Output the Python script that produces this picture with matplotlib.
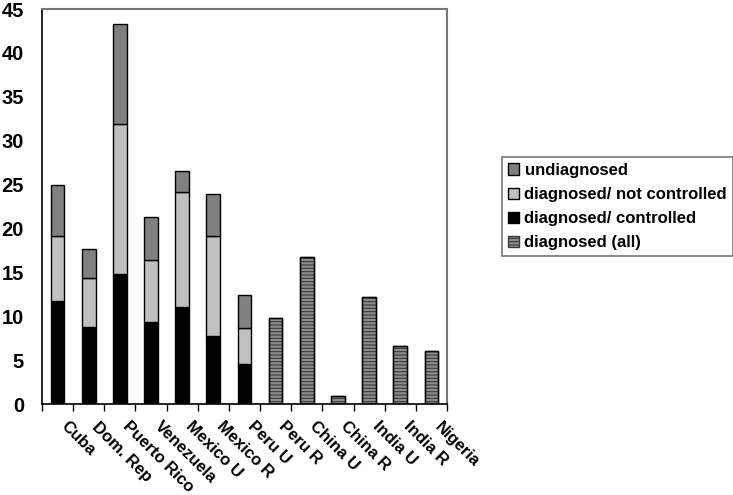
import numpy as np
import matplotlib.pyplot as plt
from matplotlib.patches import Patch

plt.rcParams['font.family'] = ['Liberation Sans', 'DejaVu Sans']
plt.rcParams['font.weight'] = 'bold'
plt.rcParams['hatch.linewidth'] = 0.8

categories = ['Cuba', 'Dom. Rep', 'Puerto Rico', 'Venezuela', 'Mexico U', 'Mexico R',
              'Peru U', 'Peru R', 'China U', 'China R', 'India U', 'India R', 'Nigeria']

# stacked groups (first 7 categories)
controlled = [11.7, 8.8, 14.8, 9.3, 11.0, 7.7, 4.6]
not_controlled = [7.4, 5.6, 17.1, 7.1, 13.1, 11.4, 4.1]
undiagnosed = [5.8, 3.3, 11.4, 4.9, 2.4, 4.8, 3.7]
# diagnosed (all) for the remaining 6 categories
diagnosed_all = [9.8, 16.8, 0.95, 12.15, 6.6, 6.0]

fig = plt.figure(figsize=(7.33, 4.95), dpi=100)
ax = fig.add_axes([0.0573, 0.1838, 0.5525, 0.798])

x = np.arange(len(categories)) + 0.5
w = 0.44
n = len(controlled)
xs = x[:n]
ax.bar(xs, controlled, w, color='black', edgecolor='black', linewidth=1)
ax.bar(xs, not_controlled, w, bottom=controlled, color='#c0c0c0', edgecolor='black', linewidth=1)
bot2 = np.array(controlled) + np.array(not_controlled)
ax.bar(xs, undiagnosed, w, bottom=bot2, color='#808080', edgecolor='black', linewidth=1)
ax.bar(x[n:], diagnosed_all, w, color='#8c8c8c', edgecolor='#3a3a3a', hatch='-----', linewidth=1)
# black outline on hatched bars
ax.bar(x[n:], diagnosed_all, w, color='none', edgecolor='black', linewidth=1)

ax.set_xlim(0, len(categories))
ax.set_ylim(0, 45)
ax.set_yticks(range(0, 46, 5))
ax.set_xticks(range(0, len(categories) + 1))
ax.set_xticklabels([])
ax.tick_params(axis='y', labelsize=14.5, length=0, pad=13)
ax.tick_params(axis='x', length=5, direction='out', width=1)
for s in ['top', 'right']:
    ax.spines[s].set_color('#777777')
    ax.spines[s].set_linewidth(1.5)
for s in ['left', 'bottom']:
    ax.spines[s].set_linewidth(1.2)

for xi, lab in zip(x, categories):
    ax.text(xi + 0.35, -1.7, lab, rotation=-45, ha='left', va='top',
            rotation_mode='anchor', fontsize=12, fontweight='bold')

handles = [
    Patch(facecolor='#808080', edgecolor='black', label='undiagnosed'),
    Patch(facecolor='#c0c0c0', edgecolor='black', label='diagnosed/ not controlled'),
    Patch(facecolor='black', edgecolor='black', label='diagnosed/ controlled'),
    Patch(facecolor='#8c8c8c', edgecolor='#3a3a3a', hatch='-----', label='diagnosed (all)'),
]
leg = fig.legend(handles=handles, loc='upper left', bbox_to_anchor=(502 / 733, 1 - 157 / 495),
                 fontsize=12, frameon=True, fancybox=False, handlelength=0.65, handleheight=0.65,
                 handletextpad=0.35, borderpad=0.35, labelspacing=0.55, borderaxespad=0)
leg.get_frame().set_edgecolor('#555555')
leg.get_frame().set_linewidth(1.2)

fig.savefig('out.png', dpi=100)
